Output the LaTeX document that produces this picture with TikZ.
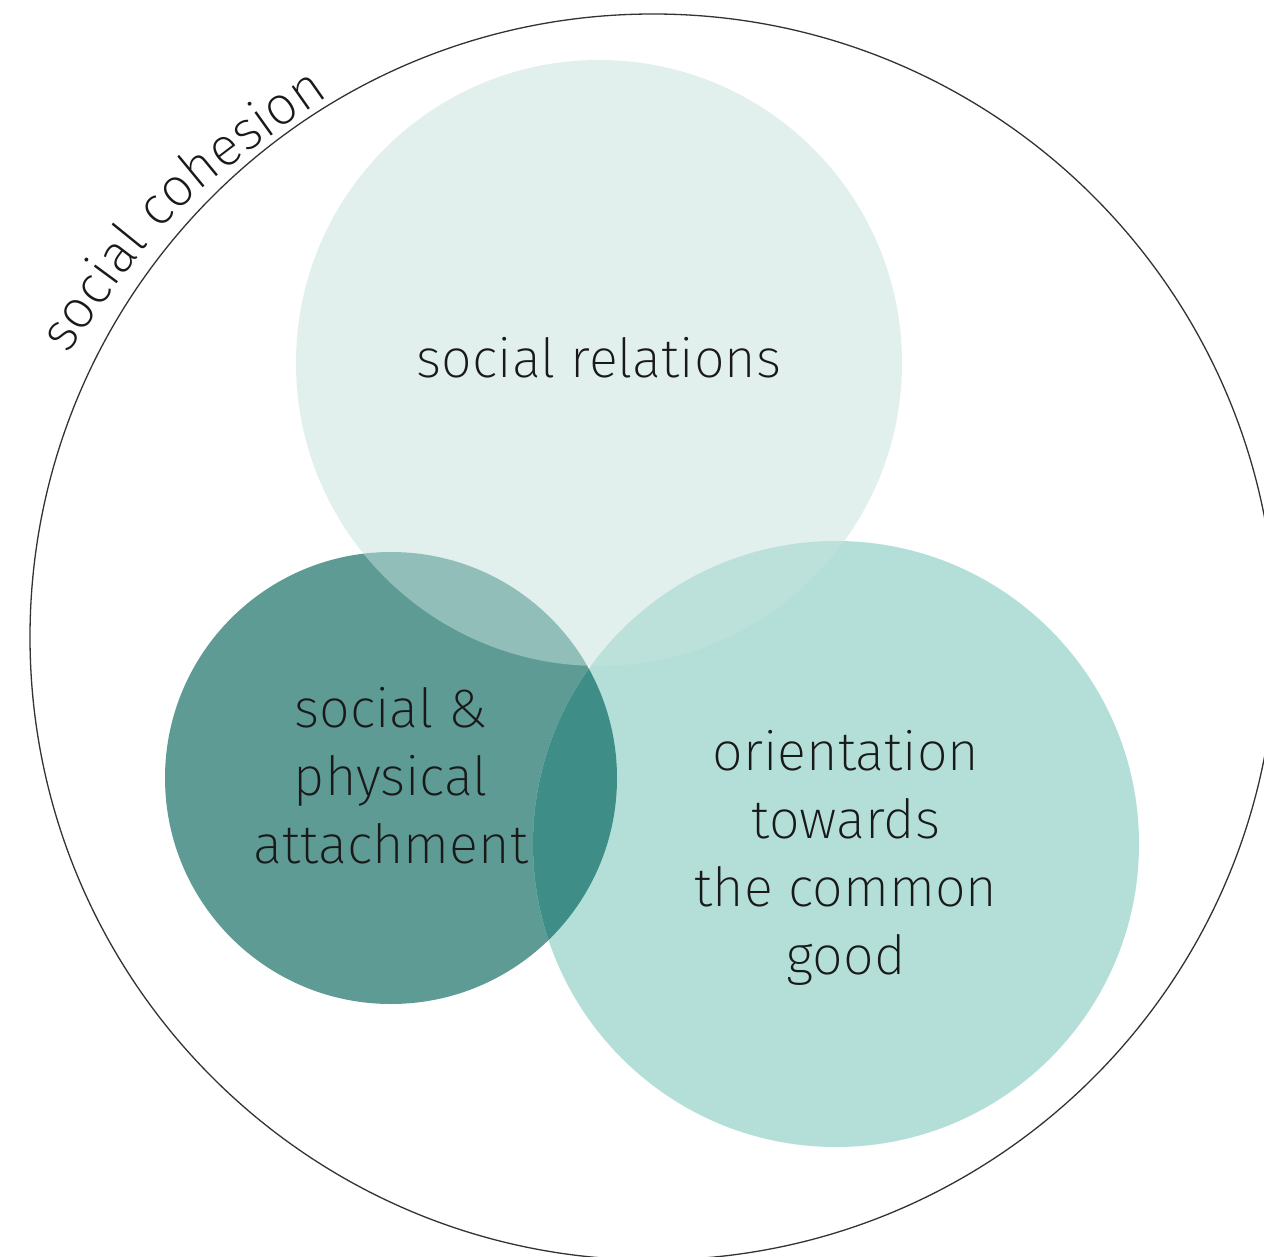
\documentclass[tikz,border=0pt]{standalone}
\usepackage{fontspec}
\setmainfont{Fira Sans ExtraLight}
\usetikzlibrary{decorations.text}
\definecolor{attachmentgreen}{HTML}{5E9B95}
\definecolor{commongreen}{HTML}{B4DFD8}
\definecolor{overlapgreen}{HTML}{3E8E87}
\definecolor{relationsgreen}{HTML}{C5E1DD}
\tikzset{outer edge/.style={draw=black!80, line width=1.3pt}}
\tikzset{circle label/.style={font=\fontsize{54}{68}\selectfont, text=black!90, align=center, inner sep=0pt}}
\tikzset{relations fill/.style={fill=relationsgreen, fill opacity=0.5}}

\begin{document}
\begin{tikzpicture}
  [x=1pt, y=-1pt]
  \useasboundingbox (0,0) rectangle (1264,1257);
  \fill [white] (0,0) rectangle (1264,1257);

  % outer set
  \draw [outer edge] (653,637) circle (623);
  \coordinate (cohesion start) at (62,362);
  \coordinate (cohesion end)   at (336,90);
  \path [decorate, decoration={text along path, text align=center,
      text={|\fontsize{54}{60}\selectfont\color{black!90}|social cohesion}}]
    (cohesion start) .. controls (172,205) .. (cohesion end);

  % inner sets
  \fill [attachmentgreen] (391,778) circle (226);
  \fill [commongreen]     (836,844) circle (303);
  \begin{scope}
    \clip (391,778) circle (226);
    \fill [overlapgreen]  (836,844) circle (303);
  \end{scope}
  \fill [relations fill]  (599,363) circle (303);

  \node [circle label] (relations)  at (599,358) {social relations};
  \node [circle label] (attachment) at (391,776) {social \&\\physical\\attachment};
  \node [circle label] (common)     at (846,858) {orientation\\towards\\the common\\good};
\end{tikzpicture}
\end{document}
